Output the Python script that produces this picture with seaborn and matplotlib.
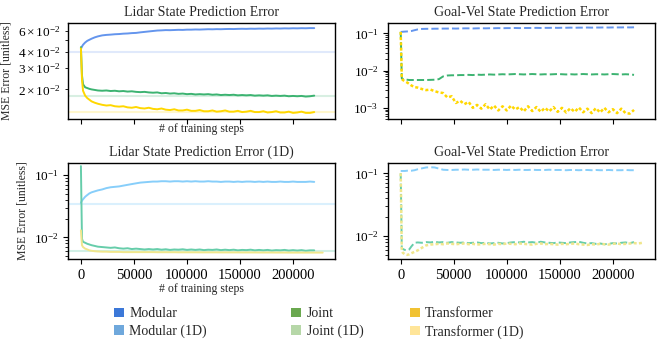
import matplotlib.pyplot as plt
import numpy as np
import pandas as pd
import seaborn as sns
from matplotlib.patches import Patch

# training steps (in thousands)
steps_k = [0, 1, 2, 4, 6, 8, 10, 13, 16, 20, 24, 28, 32, 36, 40, 44, 48, 52, 56, 60,
           64, 68, 72, 76, 80, 84, 88, 92, 96, 100, 104, 108, 112, 116, 120, 124, 128, 132, 136, 140,
           144, 148, 152, 156, 160, 164, 168, 172, 176, 180, 184, 188, 192, 196, 200, 204, 208, 212, 216, 220]
steps_k_long = steps_k + [224, 228]

# Lidar state prediction error (x1e-2)
lidar_modular = [4.26, 4.45, 4.6, 4.8, 4.95, 5.05, 5.15, 5.28, 5.38, 5.48, 5.53, 5.56, 5.6, 5.62, 5.66, 5.68, 5.72, 5.74, 5.8, 5.85,
                 5.9, 5.95, 6.0, 6.02, 6.05, 6.04, 6.06, 6.08, 6.07, 6.1, 6.1, 6.12, 6.11, 6.13, 6.15, 6.14, 6.16, 6.15, 6.17, 6.18,
                 6.17, 6.19, 6.2, 6.19, 6.21, 6.2, 6.22, 6.21, 6.23, 6.22, 6.24, 6.23, 6.25, 6.24, 6.26, 6.25, 6.27, 6.26, 6.28, 6.28]
lidar_joint = [4.4, 2.6, 2.2, 2.08, 2.05, 2.02, 2.0, 1.98, 1.96, 1.95, 1.96, 1.94, 1.95, 1.93, 1.94, 1.92, 1.93, 1.91, 1.9, 1.91,
               1.89, 1.88, 1.89, 1.86, 1.87, 1.85, 1.86, 1.84, 1.85, 1.83, 1.84, 1.82, 1.83, 1.82, 1.83, 1.81, 1.82, 1.8, 1.81, 1.8,
               1.81, 1.79, 1.8, 1.79, 1.8, 1.78, 1.79, 1.78, 1.79, 1.77, 1.78, 1.77, 1.78, 1.76, 1.77, 1.76, 1.77, 1.75, 1.76, 1.78]
lidar_transformer = [4.3, 2.4, 1.95, 1.78, 1.7, 1.65, 1.6, 1.56, 1.53, 1.5, 1.48, 1.49, 1.46, 1.45, 1.46, 1.43, 1.42, 1.44, 1.41, 1.4,
                     1.42, 1.39, 1.38, 1.4, 1.37, 1.36, 1.38, 1.35, 1.35, 1.37, 1.34, 1.34, 1.36, 1.33, 1.33, 1.35, 1.32, 1.33, 1.35, 1.32,
                     1.32, 1.34, 1.31, 1.32, 1.34, 1.31, 1.31, 1.33, 1.3, 1.31, 1.33, 1.3, 1.3, 1.32, 1.29, 1.3, 1.32, 1.29, 1.29, 1.31]
lidar_ref = [4.0, 1.77, 1.30]

# Goal-Vel state prediction error
gv_modular = [0.11, 0.11, 0.111, 0.112, 0.113, 0.114, 0.116, 0.122, 0.128, 0.132, 0.133, 0.133, 0.134, 0.134, 0.135, 0.135, 0.136, 0.135, 0.136, 0.137,
              0.137, 0.136, 0.137, 0.138, 0.137, 0.138, 0.138, 0.139, 0.138, 0.139, 0.139, 0.14, 0.139, 0.14, 0.14, 0.14, 0.141, 0.14, 0.141, 0.141,
              0.142, 0.141, 0.142, 0.142, 0.143, 0.142, 0.143, 0.143, 0.144, 0.143, 0.144, 0.144, 0.145, 0.144, 0.145, 0.145, 0.145, 0.146, 0.145, 0.146]
gv_joint = [0.11, 6.2e-3, 6.0e-3, 5.8e-3, 5.7e-3, 5.6e-3, 5.6e-3, 5.6e-3, 5.6e-3, 5.6e-3, 5.6e-3, 5.65e-3, 5.7e-3, 5.9e-3, 7.0e-3, 7.4e-3, 7.5e-3, 7.5e-3, 7.6e-3, 7.6e-3,
            7.7e-3, 7.6e-3, 7.8e-3, 7.7e-3, 7.8e-3, 7.9e-3, 7.8e-3, 7.9e-3, 8.0e-3, 7.9e-3, 8.0e-3, 8.1e-3, 8.0e-3, 7.9e-3, 8.0e-3, 8.1e-3, 8.0e-3, 7.9e-3, 8.0e-3, 7.9e-3,
            8.0e-3, 8.1e-3, 8.0e-3, 7.9e-3, 8.0e-3, 7.9e-3, 8.0e-3, 8.1e-3, 8.0e-3, 7.9e-3, 8.0e-3, 8.0e-3, 7.9e-3, 8.0e-3, 8.1e-3, 8.0e-3, 7.9e-3, 8.0e-3, 7.9e-3, 7.7e-3]
gv_transformer = [0.11, 6.0e-3, 5.6e-3, 5.2e-3, 4.8e-3, 4.4e-3, 4.0e-3, 3.6e-3, 3.5e-3, 3.2e-3, 3.0e-3, 3.1e-3, 2.8e-3, 2.6e-3, 2.5e-3, 1.9e-3, 2.05e-3, 1.35e-3, 1.55e-3, 1.25e-3,
                  1.45e-3, 1.0e-3, 1.2e-3, 0.95e-3, 1.25e-3, 0.9e-3, 1.15e-3, 0.85e-3, 1.1e-3, 0.85e-3, 1.15e-3, 0.9e-3, 1.05e-3, 0.8e-3, 1.1e-3, 0.82e-3, 1.05e-3, 0.78e-3, 1.0e-3, 0.8e-3,
                  1.05e-3, 0.78e-3, 1.0e-3, 0.75e-3, 0.98e-3, 0.78e-3, 1.02e-3, 0.76e-3, 0.95e-3, 0.72e-3, 0.98e-3, 0.75e-3, 1.0e-3, 0.76e-3, 0.92e-3, 0.72e-3, 0.95e-3, 0.72e-3, 0.7e-3, 0.88e-3]

# Lidar state prediction error (1D)
lidar1d_modular = [0.036, 0.039, 0.041, 0.045, 0.048, 0.051, 0.053, 0.055, 0.057, 0.059, 0.062, 0.064, 0.065, 0.066, 0.068, 0.07, 0.072, 0.074, 0.076, 0.077,
                   0.078, 0.079, 0.079, 0.08, 0.08, 0.079, 0.08, 0.08, 0.079, 0.08, 0.079, 0.08, 0.079, 0.079, 0.08, 0.079, 0.079, 0.078, 0.079, 0.079,
                   0.078, 0.079, 0.078, 0.079, 0.079, 0.078, 0.079, 0.078, 0.079, 0.078, 0.078, 0.079, 0.078, 0.078, 0.079, 0.078, 0.078, 0.078, 0.079, 0.078]
lidar1d_joint = [0.14, 9.5e-3, 8.5e-3, 8.2e-3, 7.9e-3, 7.7e-3, 7.5e-3, 7.3e-3, 7.1e-3, 7.0e-3, 6.9e-3, 6.8e-3, 6.9e-3, 6.7e-3, 6.6e-3, 6.7e-3, 6.5e-3, 6.6e-3, 6.5e-3, 6.4e-3,
                 6.5e-3, 6.4e-3, 6.5e-3, 6.35e-3, 6.45e-3, 6.3e-3, 6.4e-3, 6.35e-3, 6.45e-3, 6.3e-3, 6.4e-3, 6.3e-3, 6.4e-3, 6.25e-3, 6.35e-3, 6.3e-3, 6.4e-3, 6.25e-3, 6.35e-3, 6.25e-3,
                 6.35e-3, 6.2e-3, 6.3e-3, 6.25e-3, 6.35e-3, 6.2e-3, 6.3e-3, 6.2e-3, 6.3e-3, 6.15e-3, 6.25e-3, 6.2e-3, 6.3e-3, 6.15e-3, 6.25e-3, 6.15e-3, 6.25e-3, 6.1e-3, 6.2e-3, 6.2e-3]
lidar1d_transformer = [0.013, 7.5e-3, 7.0e-3, 6.6e-3, 6.4e-3, 6.2e-3, 6.1e-3, 6.0e-3, 5.95e-3, 5.9e-3, 5.9e-3, 5.85e-3, 5.85e-3, 5.85e-3, 5.8e-3, 5.8e-3, 5.8e-3, 5.8e-3, 5.8e-3, 5.8e-3,
                       5.8e-3, 5.8e-3, 5.78e-3, 5.78e-3, 5.78e-3, 5.78e-3, 5.78e-3, 5.76e-3, 5.76e-3, 5.76e-3, 5.76e-3, 5.76e-3, 5.75e-3, 5.75e-3, 5.75e-3, 5.75e-3, 5.75e-3, 5.74e-3, 5.74e-3, 5.74e-3,
                       5.74e-3, 5.74e-3, 5.73e-3, 5.73e-3, 5.73e-3, 5.73e-3, 5.72e-3, 5.72e-3, 5.72e-3, 5.72e-3, 5.71e-3, 5.71e-3, 5.71e-3, 5.7e-3, 5.7e-3, 5.7e-3, 5.7e-3, 5.7e-3, 5.7e-3, 5.7e-3,
                       5.7e-3, 5.7e-3]
lidar1d_ref = [0.034, 6.1e-3]

# Goal-Vel state prediction error (1D)
gv1d_modular = [0.109, 0.109, 0.109, 0.109, 0.11, 0.11, 0.11, 0.112, 0.116, 0.12, 0.124, 0.125, 0.124, 0.119, 0.114, 0.113, 0.113, 0.114, 0.114, 0.115,
                0.114, 0.114, 0.115, 0.114, 0.114, 0.114, 0.113, 0.114, 0.114, 0.113, 0.114, 0.113, 0.114, 0.113, 0.113, 0.114, 0.113, 0.113, 0.113, 0.114,
                0.113, 0.113, 0.113, 0.112, 0.113, 0.113, 0.112, 0.113, 0.113, 0.112, 0.113, 0.112, 0.112, 0.113, 0.112, 0.112, 0.112, 0.113, 0.112, 0.112]
gv1d_joint = [0.1, 6.4e-3, 6.2e-3, 6.0e-3, 5.9e-3, 6.1e-3, 6.8e-3, 7.8e-3, 7.9e-3, 7.8e-3, 8.0e-3, 7.9e-3, 8.1e-3, 7.9e-3, 8.0e-3, 7.8e-3, 8.0e-3, 7.9e-3, 7.8e-3, 7.9e-3,
              7.7e-3, 7.8e-3, 7.9e-3, 7.7e-3, 7.8e-3, 7.6e-3, 7.7e-3, 7.8e-3, 7.6e-3, 7.7e-3, 7.9e-3, 8.0e-3, 7.9e-3, 8.1e-3, 7.9e-3, 8.0e-3, 7.8e-3, 8.1e-3, 7.9e-3, 7.8e-3,
              7.7e-3, 7.9e-3, 7.8e-3, 7.7e-3, 7.9e-3, 8.0e-3, 8.1e-3, 7.8e-3, 7.6e-3, 7.7e-3, 7.5e-3, 7.6e-3, 7.4e-3, 7.5e-3, 7.7e-3, 7.6e-3, 7.8e-3, 7.9e-3, 7.7e-3, 8.0e-3]
gv1d_transformer = [0.1, 5.8e-3, 5.4e-3, 5.1e-3, 5.0e-3, 5.1e-3, 5.3e-3, 5.6e-3, 5.9e-3, 6.5e-3, 7.1e-3, 7.3e-3, 7.4e-3, 7.5e-3, 7.4e-3, 7.6e-3, 7.5e-3, 7.4e-3, 7.5e-3, 7.6e-3,
                    7.4e-3, 7.5e-3, 7.3e-3, 7.4e-3, 7.5e-3, 7.4e-3, 7.3e-3, 7.5e-3, 7.4e-3, 7.6e-3, 7.5e-3, 7.4e-3, 7.6e-3, 7.5e-3, 7.4e-3, 7.3e-3, 7.5e-3, 7.6e-3, 7.4e-3, 7.5e-3,
                    7.4e-3, 7.3e-3, 7.5e-3, 7.4e-3, 7.5e-3, 7.6e-3, 7.4e-3, 7.3e-3, 7.2e-3, 7.4e-3, 7.3e-3, 7.5e-3, 7.4e-3, 7.3e-3, 7.5e-3, 7.6e-3, 7.4e-3, 7.5e-3, 7.6e-3, 7.7e-3,
                    7.6e-3, 7.8e-3]

legend_labels = [['Modular', 'Modular (1D)'], ['Joint', 'Joint (1D)'], ['Transformer', 'Transformer (1D)']]
legend_colors = [['#3c78d8', '#6fa8dc'], ['#6aa84f', '#b6d7a8'], ['#f1c232', '#ffe599']]

line_colors = ['#6495ed', '#3cb371', '#ffd700']
line_colors_1d = ['#87cefa', '#66cdaa', '#f0e68c']

sns.set_style('ticks')
plt.rcParams['font.family'] = ['Liberation Serif', 'DejaVu Serif']
plt.rcParams['mathtext.fontset'] = 'stix'
plt.rcParams['axes.edgecolor'] = 'black'
plt.rcParams['axes.linewidth'] = 1.0
plt.rcParams['xtick.major.size'] = 3.5
plt.rcParams['ytick.major.size'] = 3.5
plt.rcParams['ytick.minor.size'] = 2
plt.rcParams['xtick.labelsize'] = 10.5
plt.rcParams['ytick.labelsize'] = 9.5
plt.rcParams['xtick.color'] = 'black'
plt.rcParams['ytick.color'] = 'black'

fig, axes = plt.subplots(2, 2, figsize=(6.62, 3.39), dpi=100)
fig.subplots_adjust(left=0.103, right=0.989, top=0.932, bottom=0.236, wspace=0.199, hspace=0.458)

x = np.array(steps_k) * 1000
x_long = np.array(steps_k_long) * 1000
dotted = (0, (1.2, 0.9))


def draw(ax, xs, series, colors, styles):
    for xv, ys, c, ls in zip(xs, series, colors, styles):
        lw = 1.8 if ls == dotted else 1.4
        sns.lineplot(x=xv, y=ys, ax=ax, color=c, linestyle=ls, linewidth=lw)


# top left
ax = axes[0, 0]
for v, c in zip(lidar_ref, line_colors):
    ax.axhline(v * 1e-2, color=c, alpha=0.2, linewidth=1.5)
draw(ax, [x, x, x], [np.array(lidar_modular) * 1e-2, np.array(lidar_joint) * 1e-2,
                     np.array(lidar_transformer) * 1e-2], line_colors, ['-', '-', '-'])
ax.set_yscale('log')
ax.set_ylim(1.15e-2, 6.9e-2)
ax.set_title('Lidar State Prediction Error', fontsize=10, pad=5)
ax.set_ylabel('MSE Error [unitless]', fontsize=8.5)
ax.set_xlabel('# of training steps', fontsize=8.5, labelpad=-1)

# top right
ax = axes[0, 1]
draw(ax, [x, x, x], [gv_modular, gv_joint, gv_transformer], line_colors, ['--', '--', dotted])
ax.set_yscale('log')
ax.set_ylim(5e-4, 0.19)
ax.set_title('Goal-Vel State Prediction Error', fontsize=10, pad=5)

# bottom left
ax = axes[1, 0]
for v, c in zip(lidar1d_ref, line_colors_1d):
    ax.axhline(v, color=c, alpha=0.3, linewidth=1.5)
draw(ax, [x, x, x_long], [lidar1d_modular, lidar1d_joint, lidar1d_transformer], line_colors_1d, ['-', '-', '-'])
ax.set_yscale('log')
ax.set_ylim(4.5e-3, 0.157)
ax.set_title('Lidar State Prediction Error (1D)', fontsize=10, pad=5)
ax.set_ylabel('MSE Error [unitless]', fontsize=8.5)
ax.set_xlabel('# of training steps', fontsize=8.5, labelpad=1)

# bottom right
ax = axes[1, 1]
draw(ax, [x, x, x_long], [gv1d_modular, gv1d_joint, gv1d_transformer], line_colors_1d, ['--', '--', dotted])
ax.set_yscale('log')
ax.set_ylim(4.3e-3, 0.146)
ax.set_title('Goal-Vel State Prediction Error', fontsize=10, pad=5)

for i, ax in enumerate(axes.flat):
    ax.set_xlim(-12000, 239500)
    ax.set_xticks([0, 50000, 100000, 150000, 200000])
    if i < 2:
        ax.tick_params(axis='x', labelbottom=False)
    else:
        ax.set_xticklabels(['0', '50000', '100000', '150000', '200000'])
    if i % 2 == 1:
        ax.set_ylabel('')
    if i in (1, 3):
        ax.set_xlabel('')

# legend: three columns
anchors = [0.172, 0.440, 0.619]
for labels, cols, xa in zip(legend_labels, legend_colors, anchors):
    handles = [Patch(facecolor=c, edgecolor='none') for c in cols]
    fig.legend(handles, labels, loc='upper left', bbox_to_anchor=(xa, 0.093), frameon=False,
               fontsize=10, handlelength=0.7, handleheight=0.7, handletextpad=0.4,
               labelspacing=0.3, borderpad=0, borderaxespad=0)

fig.savefig('out.png', dpi=100)
